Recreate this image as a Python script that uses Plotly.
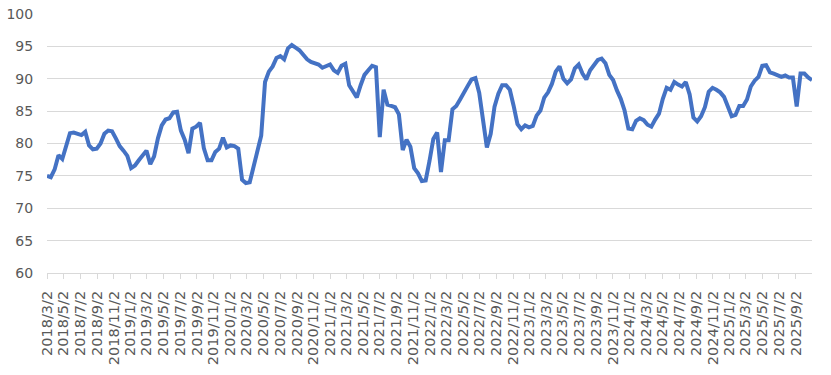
import pandas as pd
import plotly.graph_objects as go

start_date = "2018-03-02"
values = [
    75.0, 74.8, 76.0, 78.2, 77.6, 79.5, 81.6, 81.7, 81.5, 81.3,
    81.8, 79.7, 79.1, 79.2, 80.0, 81.5, 82.0, 81.9, 80.8, 79.6,
    78.9, 78.1, 76.2, 76.6, 77.4, 78.2, 78.9, 76.8, 78.0, 80.8,
    82.8, 83.7, 83.9, 84.8, 84.9, 82.0, 80.6, 78.5, 82.3, 82.6,
    83.2, 79.3, 77.4, 77.4, 78.7, 79.2, 80.9, 79.4, 79.7, 79.6,
    79.2, 74.4, 73.9, 74.0, 76.5, 79.0, 81.2, 89.5, 91.1, 91.9,
    93.2, 93.5, 93.0, 94.7, 95.2, 94.8, 94.4, 93.7, 93.0, 92.6,
    92.4, 92.2, 91.7, 91.9, 92.2, 91.3, 90.9, 92.0, 92.3, 89.0,
    88.0, 87.1, 89.0, 90.6, 91.3, 92.0, 91.8, 81.0, 88.3, 86.0,
    85.8, 85.6, 84.5, 79.0, 80.6, 79.5, 76.2, 75.4, 74.2, 74.3,
    77.3, 80.7, 81.7, 75.6, 80.5, 80.5, 85.3, 85.8, 86.8, 88.0,
    88.9, 89.9, 90.1, 87.8, 83.5, 79.4, 81.5, 85.7, 87.7, 89.0,
    89.0, 88.3, 85.8, 83.0, 82.2, 82.8, 82.5, 82.7, 84.3, 85.1,
    87.1, 87.9, 89.2, 91.1, 91.9, 90.0, 89.3, 89.9, 91.6, 92.2,
    90.8, 89.9, 91.3, 92.2, 92.9, 93.1, 92.4, 90.6, 89.8, 88.2,
    86.9, 85.1, 82.3, 82.2, 83.5, 83.9, 83.6, 82.9, 82.6, 83.7,
    84.6, 86.9, 88.6, 88.3, 89.5, 89.1, 88.8, 89.5, 87.6, 84.0,
    83.4, 84.2, 85.6, 88.0, 88.6, 88.3, 87.9, 87.2, 85.5, 84.2,
    84.4, 85.8, 85.8, 86.8, 88.8, 89.7, 90.3, 92.0, 92.1, 91.0,
    90.8, 90.6, 90.3, 90.5, 90.2, 90.2, 85.7, 90.8, 90.8, 90.2,
    89.8,
]
dates = pd.date_range(start_date, periods=len(values), freq="14D")

tick_dates = pd.date_range(start_date, "2025-09-02", freq=pd.DateOffset(months=2))
tick_labels = [f"{d.year}/{d.month}/{d.day}" for d in tick_dates]
y_ticks = [60, 65, 70, 75, 80, 85, 90, 95, 100]

fig = go.Figure()
fig.add_trace(go.Scatter(
    x=dates, y=values, mode="lines",
    line=dict(color="#4472C4", width=4),
    hoverinfo="skip",
))

fig.update_layout(
    width=831, height=375,
    margin=dict(l=47, r=19, t=14, b=102, autoexpand=False),
    paper_bgcolor="white", plot_bgcolor="white",
    showlegend=False,
    font=dict(family="DejaVu Sans, sans-serif", color="#595959"),
)
fig.update_xaxes(
    type="date",
    range=[dates[0], dates[-1]],
    tickvals=list(tick_dates), ticktext=tick_labels,
    tickangle=-90,
    tickfont=dict(size=14.5, color="#595959"),
    showgrid=False,
    showline=True, linecolor="#D9D9D9", linewidth=1,
    ticks="outside", ticklen=5, tickcolor="#D9D9D9", tickwidth=1,
    ticklabelstandoff=6,
    zeroline=False, automargin=False,
)
fig.update_yaxes(
    range=[60, 100],
    tickvals=y_ticks,
    tickfont=dict(size=14, color="#595959"),
    showgrid=True, gridcolor="#D9D9D9", gridwidth=1,
    zeroline=False, showline=False,
    ticks="outside", ticklen=10, tickcolor="rgba(0,0,0,0)",
    automargin=False,
)

fig.write_html(
    "out.html",
    config={"displayModeBar": False, "staticPlot": True},
    post_script="document.body.style.margin='0px';document.body.style.overflow='hidden';",
)
